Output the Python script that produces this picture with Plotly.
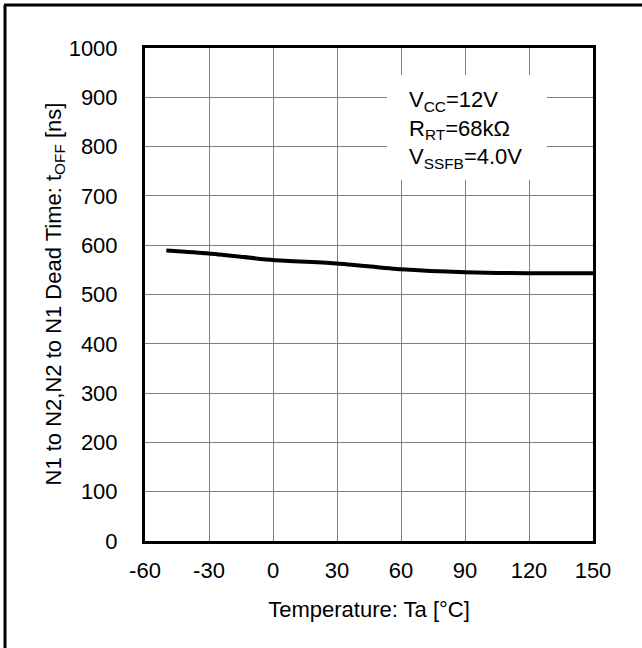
import plotly.graph_objects as go

temps = [-50, -30, 0, 30, 60, 90, 120, 150]
dead_time = [589, 583, 570, 563, 551, 545, 543, 543]

x_ticks = [-60, -30, 0, 30, 60, 90, 120, 150]
y_ticks = [0, 100, 200, 300, 400, 500, 600, 700, 800, 900, 1000]

W, H = 642, 648
L, R, T, B = 145, 49, 48, 107
pw, ph = W - L - R, H - T - B

def px_x(p):
    return (p - L) / pw

def px_y(p):
    return (H - B - p) / ph

FONT = "Liberation Sans, Arial, sans-serif"

fig = go.Figure()
fig.add_trace(go.Scatter(
    x=temps, y=dead_time, mode="lines",
    line=dict(color="black", width=4, shape="spline", smoothing=0.6),
    showlegend=False, hoverinfo="skip"))

fig.update_layout(
    width=W, height=H,
    margin=dict(l=L, r=R, t=T, b=B, pad=0),
    paper_bgcolor="white", plot_bgcolor="white",
    font=dict(family=FONT, size=22, color="black"),
    xaxis=dict(range=[-60, 150], tickvals=x_ticks, ticktext=[str(v) for v in x_ticks],
               showgrid=True, gridcolor="#808080", gridwidth=1,
               showline=True, linecolor="black", linewidth=3, mirror=True,
               ticks="", ticklabelstandoff=8, zeroline=False,
               title=dict(text="Temperature: Ta [°C]", font=dict(size=22), standoff=20)),
    yaxis=dict(range=[0, 1000], tickvals=y_ticks, ticktext=[str(v) for v in y_ticks],
               showgrid=True, gridcolor="#808080", gridwidth=1,
               showline=True, linecolor="black", linewidth=3, mirror=True,
               ticks="", ticklabelstandoff=20, zeroline=False),
    shapes=[
        dict(type="rect", xref="x", yref="y", x0=53.4, x1=128.4, y0=732, y1=945,
             fillcolor="white", line=dict(width=0), layer="above"),
        dict(type="line", xref="paper", yref="paper",
             x0=px_x(5), x1=px_x(5), y0=px_y(5), y1=px_y(700),
             line=dict(color="black", width=3)),
        dict(type="line", xref="paper", yref="paper",
             x0=px_x(4), x1=px_x(700), y0=px_y(5), y1=px_y(5),
             line=dict(color="black", width=3)),
    ],
    annotations=[
        dict(xref="x", yref="y", x=62.8, y=925, xanchor="left", yanchor="top",
             align="left", showarrow=False,
             text="V<sub>CC</sub>=12V<br>R<sub>RT</sub>=68kΩ<br>V<sub>SSFB</sub>=4.0V",
             font=dict(size=22, family=FONT, color="black")),
        dict(xref="paper", yref="paper", x=px_x(54), y=0.5, xanchor="center", yanchor="middle",
             textangle=-90, showarrow=False,
             text="N1 to N2,N2 to N1 Dead Time: t<sub>OFF</sub> [ns]",
             font=dict(size=22, family=FONT, color="black")),
    ],
)

fig.write_html("out.html", config={"displayModeBar": False},
               post_script="document.body.style.margin='0px';")
